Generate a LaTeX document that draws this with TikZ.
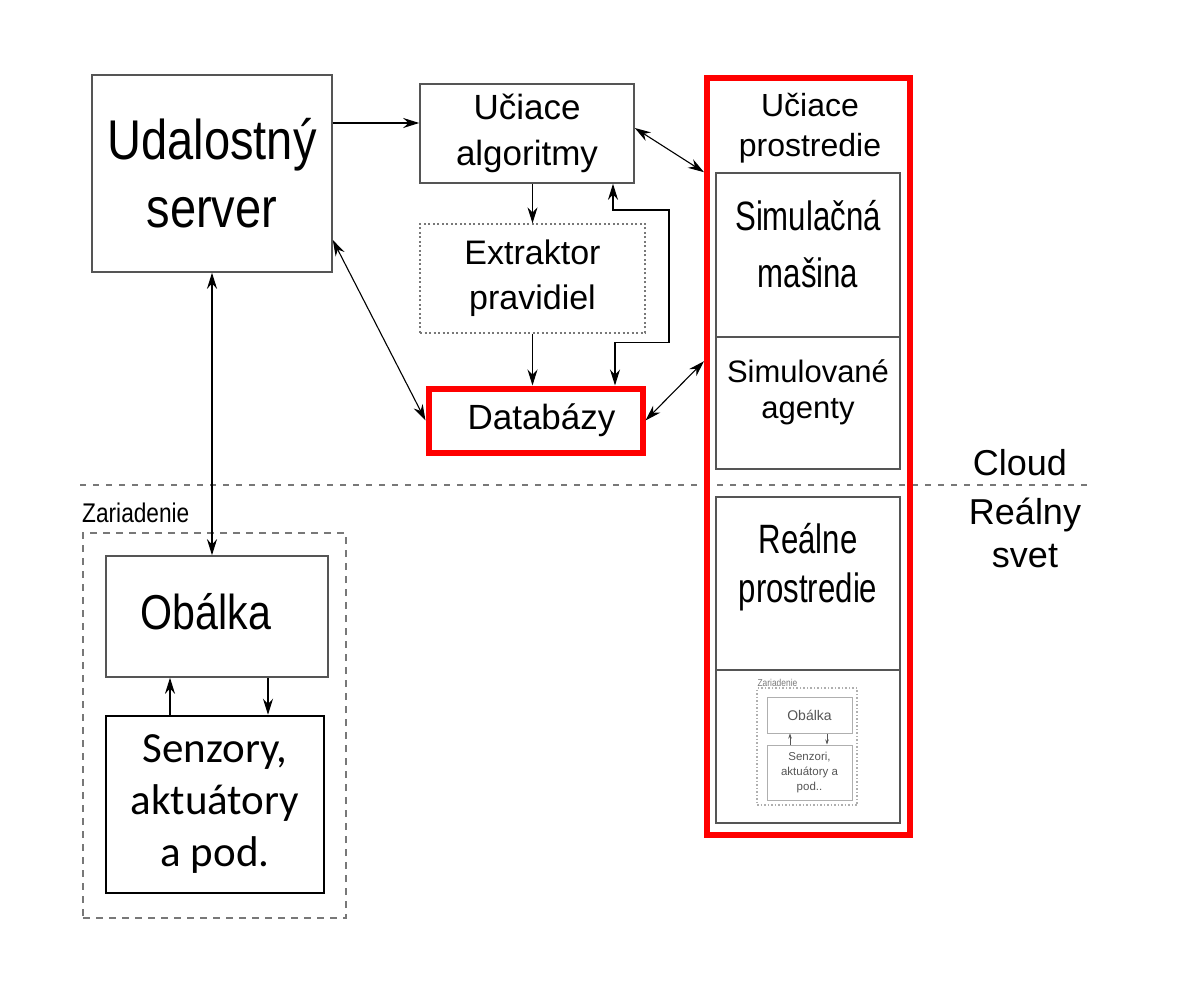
\documentclass[tikz,border=0pt]{standalone}
\usepackage{fontspec}
\setmainfont{Liberation Sans}
\newfontfamily\uzkyfont[FakeStretch=0.84]{Liberation Sans}
\newfontfamily\uzsifont[FakeStretch=0.76]{Liberation Sans}
\newfontfamily\calfont{Carlito}
\usetikzlibrary{arrows.meta}
\definecolor{ramsiva}{RGB}{85,85,85}
\definecolor{ciarsiva}{RGB}{120,120,120}
\definecolor{svetlosiva}{RGB}{175,175,175}
\tikzset{
  blok/.style={draw=ramsiva, line width=1.6pt, align=center, inner sep=0pt},
  cervblok/.style={draw=red, line width=6pt, inner sep=0pt},
  sipka/.style={-{Stealth[length=16pt,width=10pt]}, line width=1.1pt},
  obesipky/.style={{Stealth[length=16pt,width=10pt]}-{Stealth[length=16pt,width=10pt]}, line width=1.1pt},
  malasipka/.style={-{Stealth[length=5pt,width=3.5pt]}, line width=0.6pt, draw=ramsiva},
}
\begin{document}
\begin{tikzpicture}[x=1pt,y=-1pt]
\useasboundingbox (0,0) rectangle (1197,984);
%\draw[step=100,thin,gray](0,0) grid (1197,984);
% hranica cloud / realny svet
\draw[ciarsiva, line width=1.4pt, dash pattern=on 6pt off 7pt] (80,485) -- (1090,485);
\node[font=\fontsize{36}{43}\selectfont] (cloud) at (1020,463) {Cloud};
\node[font=\fontsize{36}{43}\selectfont, align=center] (svet) at (1025,533) {Reálny\\svet};
% cloud cast
\node[blok, minimum width=240, minimum height=197, font=\uzkyfont\fontsize{56}{68}\selectfont] (server) at (212,173.5) {Udalostný\\server};
\node[blok, minimum width=214, minimum height=99, font=\fontsize{35}{46}\selectfont] (ucalg) at (527,133.5) {Učiace\\algoritmy};
\node[blok, draw=ciarsiva, line width=1.3pt, dash pattern=on 2pt off 2.5pt, minimum width=225, minimum height=109, font=\fontsize{34}{45}\selectfont] (extr) at (532.5,278.5) {Extraktor\\pravidiel};
\node[cervblok, minimum width=214, minimum height=64, font=\fontsize{35}{42}\selectfont] (datab) at (535.5,420.5) {\hspace*{12pt}Databázy};
% uciace prostredie
\node[blok, minimum width=184, minimum height=164] (simmas) at (808,255) {};
\node[font=\uzsifont\fontsize{41}{57}\selectfont, align=center] (simtxt) at (808,244) {Simulačná\\mašina};
\node[blok, minimum width=184, minimum height=132] (simag) at (808,403) {};
\node[font=\fontsize{31}{36}\selectfont, align=center] (agtxt) at (808,392) {Simulované\\agenty};
\node[blok, minimum width=184, minimum height=173] (realp) at (808,583.5) {};
\node[font=\uzsifont\fontsize{41}{49}\selectfont, align=center] (realtxt) at (808,567) {Reálne\\prostredie};
\node[blok, minimum width=184, minimum height=153] (zarbox) at (808,746.5) {};
\node[cervblok, minimum width=203, minimum height=757] (ucprost) at (808.5,456.5) {};
\node[font=\fontsize{32}{40}\selectfont, align=center] (prosttxt) at (810,128) {Učiace\\prostredie};
% male zariadenie
\node[draw=svetlosiva, line width=1.2pt, dash pattern=on 1.5pt off 2pt, minimum width=100, minimum height=117] (mzar) at (807,746.5) {};
\node[text=ciarsiva, font=\uzkyfont\fontsize{10}{12}\selectfont, anchor=south west, inner sep=1pt] (mzartxt) at (mzar.north west) {Zariadenie};
\node[draw=svetlosiva, line width=1pt, minimum width=85, minimum height=36, font=\fontsize{14}{16}\selectfont, text=ramsiva] (mobal) at (809.5,715) {Obálka};
\node[draw=svetlosiva, line width=1pt, minimum width=85, minimum height=55, align=center, font=\fontsize{11.5}{15}\selectfont, text=ramsiva] (msenz) at (809.5,772.5) {Senzori,\\aktuátory a\\pod..};
\draw[malasipka] ([xshift=-19.5pt]msenz.north) -- ([xshift=-19.5pt]msenz.north |- mobal.south);
\draw[malasipka] ([xshift=17.5pt]mobal.south) -- ([xshift=17.5pt]mobal.south |- msenz.north);
% zariadenie
\node[draw=ciarsiva, line width=1.4pt, dash pattern=on 7pt off 6pt, minimum width=263, minimum height=385] (zar) at (214.5,725.5) {};
\node[font=\uzkyfont\fontsize{27}{30}\selectfont, anchor=west, inner sep=0pt] (zartxt) at (82,513) {Zariadenie};
\node[blok, minimum width=222, minimum height=121] (obal) at (217,616.5) {};
\node[font=\uzkyfont\fontsize{49}{55}\selectfont] (obaltxt) at (206,612) {Obálka};
\node[draw=black, line width=2.5pt, minimum width=218, minimum height=177, align=center, font=\calfont\fontsize{43}{52}\selectfont] (senz) at (215,804.5) {Senzory,\\aktuátory\\a pod.};
% sipky
\coordinate (s1) at ([yshift=10.5pt]ucalg.west);
\draw[sipka] (server.east |- s1) -- (s1);
\draw[obesipky] (server.south) -- (server.south |- obal.north);
\draw[obesipky] ([yshift=-66.5pt]server.east) -- (datab.west);
\draw[sipka] (extr.north |- ucalg.south) -- (extr.north);
\draw[sipka] (extr.south) -- (extr.south |- datab.north);
\coordinate (d1) at ([xshift=79.5pt]datab.north);
\coordinate (u1) at ([xshift=86pt]ucalg.south);
\draw[obesipky] (d1) -- ++(0,-43) -| (669,210) -| (u1);
\draw[obesipky] ([yshift=5.5pt]ucalg.east) -- (ucprost.west |- simmas.north);
\coordinate (p1) at ([yshift=-25pt]ucprost.west |- simag.north);
\draw[obesipky] (datab.east) -- (p1);
\draw[sipka] ([xshift=-45pt]senz.north) -- ([xshift=-45pt]senz.north |- obal.south);
\draw[sipka] ([xshift=51pt]obal.south) -- ([xshift=51pt]obal.south |- senz.north);
\end{tikzpicture}
\end{document}
